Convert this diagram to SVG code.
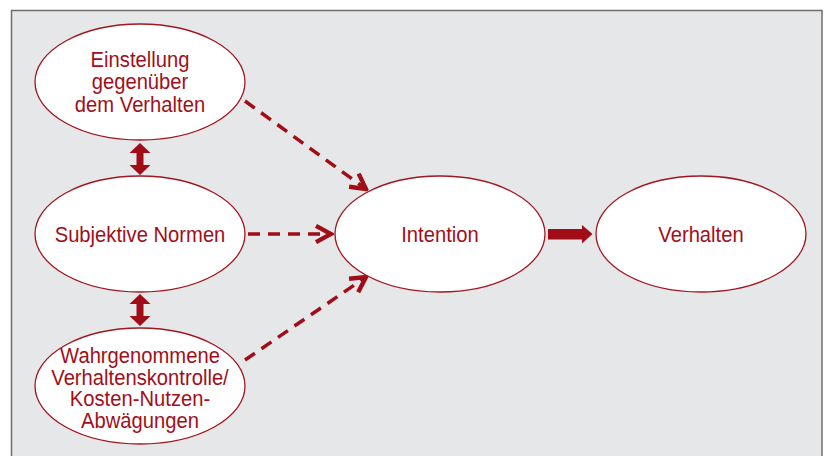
<svg xmlns="http://www.w3.org/2000/svg" width="824" height="456" viewBox="0 0 824 456">
<style>
.bg{fill:#ffffff}
.frame{fill:#e6e7e8;stroke:#6e6e6e;stroke-width:1.5}
.node ellipse{fill:#ffffff;stroke:#a3161f;stroke-width:1.3}
.node text{font-family:"Liberation Sans",Arial,sans-serif;font-size:21.5px;fill:#a10f1a;text-anchor:middle}
.dash{fill:none;stroke:#a00d17;stroke-width:3.5;stroke-dasharray:12 8}
.solid{fill:#a00d17}
</style>
<defs>
<marker id="chev" markerUnits="userSpaceOnUse" markerWidth="20" markerHeight="20" viewBox="-14 -8 16 16" refX="0" refY="0" orient="auto">
<path d="M-12,-6.5 L0,0 L-12,6.5" fill="none" stroke="#a00d17" stroke-width="3.5"/>
</marker>
</defs>
<rect class="bg" x="0" y="0" width="824" height="456"/>
<rect class="frame" x="11.5" y="10.5" width="810.5" height="460"/>
<g id="connectors">
<path class="dash" d="M245,101 L366,189" marker-end="url(#chev)"/>
<path class="dash" d="M248,234 L331,234" marker-end="url(#chev)"/>
<path class="dash" d="M245,360 L366,277" marker-end="url(#chev)"/>
<path class="solid" d="M140,143 L150.5,153 L143.5,153 L143.5,165 L150.5,165 L140,175 L129.5,165 L136.5,165 L136.5,153 L129.5,153 Z"/>
<path class="solid" d="M140,294 L150.5,304 L143.5,304 L143.5,316 L150.5,316 L140,326 L129.5,316 L136.5,316 L136.5,304 L129.5,304 Z"/>
<path class="solid" d="M548,229 L582,229 L582,225 L592.5,234 L582,243.5 L582,239.5 L548,239.5 Z"/>
</g>
<g id="einstellung" class="node">
<ellipse cx="140" cy="82" rx="105" ry="58"/>
<g transform="translate(140,0) scale(0.94,1)">
<text x="0" y="67">Einstellung</text>
<text x="0" y="89.5">gegenüber</text>
<text x="0" y="112">dem Verhalten</text>
</g>
</g>
<g id="subjektive" class="node">
<ellipse cx="140" cy="234" rx="105" ry="58"/>
<text transform="translate(140,0) scale(0.94,1)" x="0" y="242">Subjektive Normen</text>
</g>
<g id="wahrgenommene" class="node">
<ellipse cx="140" cy="386" rx="105" ry="58"/>
<g transform="translate(140,0) scale(0.94,1)">
<text x="0" y="363.5">Wahrgenommene</text>
<text x="0" y="385">Verhaltenskontrolle/</text>
<text x="0" y="406.5">Kosten-Nutzen-</text>
<text x="0" y="428">Abwägungen</text>
</g>
</g>
<g id="intention" class="node">
<ellipse cx="440" cy="234" rx="105" ry="58"/>
<text transform="translate(440,0) scale(0.94,1)" x="0" y="242">Intention</text>
</g>
<g id="verhalten" class="node">
<ellipse cx="701" cy="234" rx="105" ry="58"/>
<text transform="translate(701,0) scale(0.94,1)" x="0" y="242">Verhalten</text>
</g>
</svg>
